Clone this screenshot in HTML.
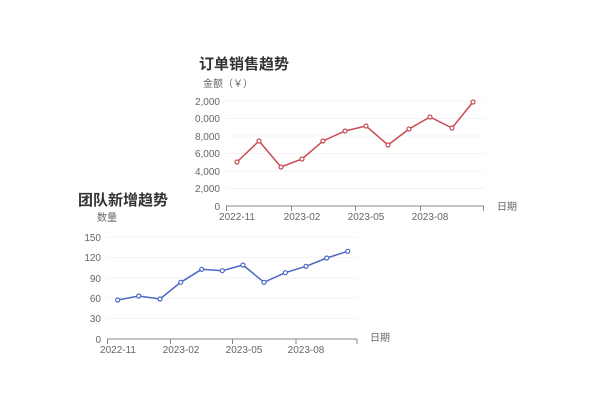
<!DOCTYPE html><html><head><meta charset="utf-8"><style>body{margin:0;background:#fff}svg text{font-family:"Liberation Sans","Noto Sans CJK SC",sans-serif}</style></head><body>
<svg width="600" height="400" xmlns="http://www.w3.org/2000/svg">
<text x="199" y="69" font-size="15" font-weight="bold" fill="#333">订单销售趋势</text>
<text x="203" y="87" font-size="10" fill="#666">金额（￥）</text>
<g stroke="#f3f3f3"><line x1="226" x2="484" y1="101" y2="101"/><line x1="226" x2="484" y1="118.5" y2="118.5"/><line x1="226" x2="484" y1="136" y2="136"/><line x1="226" x2="484" y1="153.5" y2="153.5"/><line x1="226" x2="484" y1="171" y2="171"/><line x1="226" x2="484" y1="188.5" y2="188.5"/></g>
<g font-size="10" fill="#666" text-anchor="end"><text x="220" y="105">2,000</text><text x="220" y="122">0,000</text><text x="220" y="140">8,000</text><text x="220" y="157">6,000</text><text x="220" y="175">4,000</text><text x="220" y="192">2,000</text><text x="220" y="210">0</text></g>
<line x1="226" x2="484" y1="206" y2="206" stroke="#888"/>
<g stroke="#888"><line x1="226.5" x2="226.5" y1="206" y2="211"/><line x1="291.5" x2="291.5" y1="206" y2="211"/><line x1="355.5" x2="355.5" y1="206" y2="211"/><line x1="420.5" x2="420.5" y1="206" y2="211"/><line x1="483.5" x2="483.5" y1="206" y2="211"/></g>
<g font-size="10" fill="#666" text-anchor="middle"><text x="237" y="220">2022-11</text><text x="302" y="220">2023-02</text><text x="366" y="220">2023-05</text><text x="430" y="220">2023-08</text></g>
<text x="497" y="210" font-size="10" fill="#666">日期</text>
<polyline fill="none" stroke="#c94a55" stroke-width="1.5" points="237,162 259,141 281,167 302,159 323,141 345,131 366,126 388,145 409,129 430,117 452,128 473,102"/>
<g fill="#fff" stroke="#c94a55" stroke-width="1.2"><circle cx="237" cy="162" r="2"/><circle cx="259" cy="141" r="2"/><circle cx="281" cy="167" r="2"/><circle cx="302" cy="159" r="2"/><circle cx="323" cy="141" r="2"/><circle cx="345" cy="131" r="2"/><circle cx="366" cy="126" r="2"/><circle cx="388" cy="145" r="2"/><circle cx="409" cy="129" r="2"/><circle cx="430" cy="117" r="2"/><circle cx="452" cy="128" r="2"/><circle cx="473" cy="102" r="2"/></g>

<text x="78" y="205" font-size="15" font-weight="bold" fill="#333">团队新增趋势</text>
<text x="97" y="221" font-size="10" fill="#666">数量</text>
<g stroke="#f3f3f3"><line x1="107" x2="357" y1="237" y2="237"/><line x1="107" x2="357" y1="257.5" y2="257.5"/><line x1="107" x2="357" y1="278" y2="278"/><line x1="107" x2="357" y1="298" y2="298"/><line x1="107" x2="357" y1="318.5" y2="318.5"/></g>
<g font-size="10" fill="#666" text-anchor="end"><text x="101" y="241">150</text><text x="101" y="261">120</text><text x="101" y="282">90</text><text x="101" y="302">60</text><text x="101" y="322">30</text><text x="101" y="343">0</text></g>
<line x1="107" x2="357" y1="339" y2="339" stroke="#888"/>
<g stroke="#888"><line x1="107.5" x2="107.5" y1="339" y2="344"/><line x1="170.5" x2="170.5" y1="339" y2="344"/><line x1="232.5" x2="232.5" y1="339" y2="344"/><line x1="296" x2="296" y1="339" y2="344"/><line x1="357" x2="357" y1="339" y2="344"/></g>
<g font-size="10" fill="#666" text-anchor="middle"><text x="118" y="353">2022-11</text><text x="181" y="353">2023-02</text><text x="244" y="353">2023-05</text><text x="306" y="353">2023-08</text></g>
<text x="370" y="341" font-size="10" fill="#666">日期</text>
<polyline fill="none" stroke="#4a67c4" stroke-width="1.5" points="117.7,300 138.7,296 160,299 180.7,282.3 201.7,269.3 222.3,270.7 243,265 264,282.3 285.3,272.7 306,266.3 326.7,258 347.7,251.3"/>
<g fill="#fff" stroke="#4a67c4" stroke-width="1.2"><circle cx="117.7" cy="300" r="2"/><circle cx="138.7" cy="296" r="2"/><circle cx="160" cy="299" r="2"/><circle cx="180.7" cy="282.3" r="2"/><circle cx="201.7" cy="269.3" r="2"/><circle cx="222.3" cy="270.7" r="2"/><circle cx="243" cy="265" r="2"/><circle cx="264" cy="282.3" r="2"/><circle cx="285.3" cy="272.7" r="2"/><circle cx="306" cy="266.3" r="2"/><circle cx="326.7" cy="258" r="2"/><circle cx="347.7" cy="251.3" r="2"/></g>
</svg></body></html>
